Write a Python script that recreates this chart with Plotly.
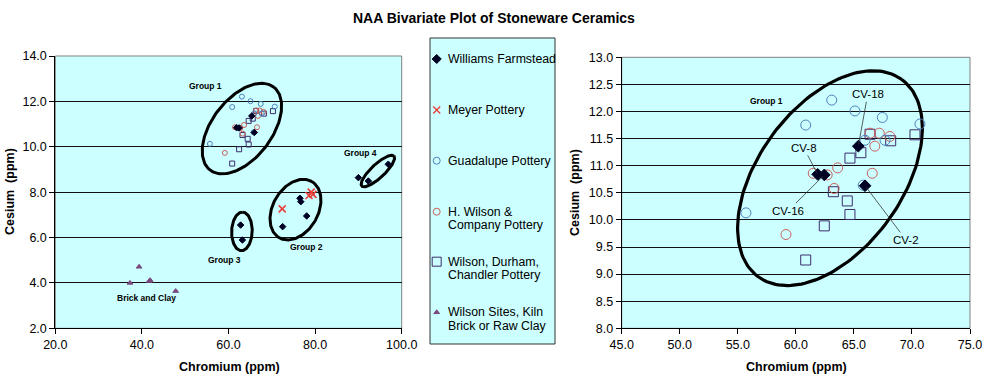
import numpy as np
import plotly.graph_objects as go

W, H = 987, 380
FONT = "Liberation Sans, Arial, Helvetica, sans-serif"

# ---------------- data (Chromium ppm, Cesium ppm) ----------------
series_names = ["Williams Farmstead", "Meyer Pottery", "Guadalupe Pottery",
                "H. Wilson & Company Pottery", "Wilson, Durham, Chandler Pottery",
                "Wilson Sites, Kiln Brick or Raw Clay"]
legend_lines = [["Williams Farmstead"], ["Meyer Pottery"], ["Guadalupe Pottery"],
                ["H. Wilson &", "Company Pottery"], ["Wilson, Durham,", "Chandler Pottery"],
                ["Wilson Sites, Kiln", "Brick or Raw Clay"]]

williams_x = [65.38, 61.88, 62.45, 65.96, 62.8, 63.2, 76.5, 76.7, 78.06, 72.5, 90.0, 92.3, 96.9]
williams_y = [11.36, 10.84, 10.83, 10.63, 6.55, 5.89, 7.73, 7.58, 6.95, 6.48, 8.64, 8.49, 9.23]
williams_labels = ["CV-18", "CV-8", "CV-16", "CV-2"]   # first four samples

meyer_x = [72.4, 78.6, 79.1, 79.5]
meyer_y = [7.26, 7.85, 8.0, 7.9]

guadalupe_x = [63.09, 65.09, 60.85, 67.45, 70.69, 65.96, 67.68, 65.8, 55.7]
guadalupe_y = [12.21, 12.01, 11.75, 11.89, 11.77, 11.47, 11.47, 10.64, 10.13]

hwilson_x = [61.5, 62.7, 63.6, 66.58, 66.8, 67.19, 68.1, 63.3, 59.15, 66.4]
hwilson_y = [10.86, 10.83, 10.96, 10.86, 11.36, 11.60, 11.54, 10.58, 9.73, 11.6]

wdc_x = [66.39, 68.17, 70.26, 65.6, 64.66, 63.23, 64.43, 64.66, 62.45, 60.85]
wdc_y = [11.58, 11.46, 11.57, 11.24, 11.14, 10.52, 10.35, 10.10, 9.89, 9.26]

sites_x = [39.35, 37.25, 41.7, 41.9, 47.8]
sites_y = [4.71, 4.0, 4.08, 4.12, 3.64]

# group ellipses: centre (data), semi-axes (px), tilt (deg)
left_groups = ["Group 1", "Group 2", "Group 3", "Group 4"]
left_ell_cx = [63.1, 75.47, 63.1, 94.5]
left_ell_cy = [10.8, 7.23, 6.27, 8.93]
left_ell_a = [52.3, 32.5, 19.3, 22.0]
left_ell_b = [29.9, 22.6, 10.3, 6.7]
left_ell_ang = [52.5, 59.8, 88.0, 43.0]
left_label_x = [54.8, 78.06, 59.08, 90.5]
left_label_y = [12.68, 5.57, 5.0, 9.73]
clay_label = ("Brick and Clay", 41.13, 3.32)

right_ell = dict(cx=62.94, cy=10.77, a=122.0, b=72.0, ang=54.0)
right_group_label = ("Group 1", 57.51, 12.19)
cv_label_x = [66.19, 60.68, 59.35, 69.49]
cv_label_y = [12.32, 11.33, 10.17, 9.63]

# ---------------- layout geometry ----------------
L_XD = [55.3 / W, 401.7 / W]
L_YD = [1 - 328.3 / H, 1 - 56.0 / H]
R_XD = [621.7 / W, 970.0 / W]
R_YD = [1 - 328.3 / H, 1 - 57.3 / H]
LEG_X = [430 / W, 555 / W]
LEG_Y = [1 - 344 / H, 1 - 38 / H]
L_XR, L_YR = [20, 100], [2, 14]
R_XR, R_YR = [45, 75], [8, 13]

colors = ["#000022", "#e8403c", "#4f81bd", "#c8605a", "#3c2c6c", "#7a4a7e"]
symbols = ["diamond", "x-thin-open", "circle-open", "circle-open", "square-open", "triangle-up"]
series = [(williams_x, williams_y), (meyer_x, meyer_y), (guadalupe_x, guadalupe_y),
          (hwilson_x, hwilson_y), (wdc_x, wdc_y), (sites_x, sites_y)]
left_sizes = [5, 7, 5, 5, 5, 5]
right_sizes = [9, 10, 10, 10, 10, 6]
legend_sizes = [7, 7, 7, 7, 9, 5]


def ellipse(cx, cy, a, b, ang, xd, yd, xr, yr, n=160):
    ppx = (xd[1] - xd[0]) * W / (xr[1] - xr[0])
    ppy = (yd[1] - yd[0]) * H / (yr[1] - yr[0])
    t = np.linspace(0, 2 * np.pi, n)
    th = np.radians(ang)
    dx = a * np.cos(t) * np.cos(th) - b * np.sin(t) * np.sin(th)
    dy = a * np.cos(t) * np.sin(th) + b * np.sin(t) * np.cos(th)
    return cx + dx / ppx, cy + dy / ppy


fig = go.Figure()

# ellipses
for i in range(len(left_groups)):
    ex, ey = ellipse(left_ell_cx[i], left_ell_cy[i], left_ell_a[i], left_ell_b[i],
                     left_ell_ang[i], L_XD, L_YD, L_XR, L_YR)
    fig.add_trace(go.Scatter(x=ex, y=ey, mode="lines", line=dict(color="black", width=3),
                             hoverinfo="skip", showlegend=False, xaxis="x", yaxis="y"))
ex, ey = ellipse(right_ell["cx"], right_ell["cy"], right_ell["a"], right_ell["b"],
                 right_ell["ang"], R_XD, R_YD, R_XR, R_YR)
fig.add_trace(go.Scatter(x=ex, y=ey, mode="lines", line=dict(color="black", width=3.2),
                         hoverinfo="skip", showlegend=False, xaxis="x2", yaxis="y2"))

# data markers, drawn in reverse so Williams diamonds end on top
order = [5, 4, 3, 2, 1, 0]
for i in order:
    sx, sy = series[i]
    lw = 1.6 if symbols[i] == "x-thin-open" else 1
    for ax, ay, sz in (("x", "y", left_sizes[i]), ("x2", "y2", right_sizes[i])):
        fig.add_trace(go.Scatter(
            x=sx, y=sy, mode="markers", name=series_names[i], showlegend=False,
            xaxis=ax, yaxis=ay,
            marker=dict(symbol=symbols[i], size=sz, color=colors[i],
                        line=dict(color=colors[i], width=lw))))

# manual legend markers (legend axis in pixel units)
legend_row = [21, 72, 122.7, 173.7, 223.7, 274.3]
for i in range(len(series_names)):
    lw = 1.4 if symbols[i] == "x-thin-open" else 1
    fig.add_trace(go.Scatter(
        x=[6.7], y=[legend_row[i]], mode="markers", showlegend=False, hoverinfo="skip",
        xaxis="x3", yaxis="y3",
        marker=dict(symbol=symbols[i], size=legend_sizes[i], color=colors[i],
                    line=dict(color=colors[i], width=lw))))

annotations = []
shapes = []
for i, lines in enumerate(legend_lines):
    for j, txt in enumerate(lines):
        annotations.append(dict(x=15.5, y=legend_row[i] + j * 13.4, xref="x3", yref="y3",
                                text=txt, showarrow=False, xanchor="left", yanchor="middle",
                                font=dict(family=FONT, size=12.3, color="black")))

# group labels
for i, g in enumerate(left_groups):
    annotations.append(dict(x=left_label_x[i], y=left_label_y[i], xref="x", yref="y",
                            text="<b>%s</b>" % g, showarrow=False,
                            xanchor="center", yanchor="middle",
                            font=dict(family=FONT, size=8.5, color="black")))
annotations.append(dict(x=clay_label[1], y=clay_label[2], xref="x", yref="y",
                        text="<b>%s</b>" % clay_label[0], showarrow=False,
                        xanchor="center", yanchor="middle",
                        font=dict(family=FONT, size=8.5, color="black")))
annotations.append(dict(x=right_group_label[1], y=right_group_label[2], xref="x2", yref="y2",
                        text="<b>%s</b>" % right_group_label[0], showarrow=False,
                        xanchor="center", yanchor="middle",
                        font=dict(family=FONT, size=8.5, color="black")))

# CV labels with leader lines
for i, lab in enumerate(williams_labels):
    annotations.append(dict(x=williams_x[i], y=williams_y[i], xref="x2", yref="y2",
                            ax=cv_label_x[i], ay=cv_label_y[i], axref="x2", ayref="y2",
                            text=lab, showarrow=True, arrowhead=0, arrowwidth=0.8,
                            arrowcolor="#333333", standoff=2,
                            font=dict(family=FONT, size=11.5, color="black")))

# titles
annotations.append(dict(x=494 / W, y=1 - 18 / H, xref="paper", yref="paper",
                        xanchor="center", yanchor="middle",
                        text="<b>NAA Bivariate Plot of Stoneware Ceramics</b>", showarrow=False,
                        font=dict(family=FONT, size=14, color="black")))
for cx in (229 / W, 796 / W):
    annotations.append(dict(x=cx, y=1 - 367 / H, xref="paper", yref="paper",
                            xanchor="center", yanchor="middle",
                            text="<b>Chromium (ppm)</b>", showarrow=False,
                            font=dict(family=FONT, size=12.5, color="black")))
for cx, cy in ((10 / W, 1 - 192 / H), (575 / W, 1 - 193 / H)):
    annotations.append(dict(x=cx, y=cy, xref="paper", yref="paper", textangle=-90,
                            xanchor="center", yanchor="middle",
                            text="<b>Cesium  (ppm)</b>", showarrow=False,
                            font=dict(family=FONT, size=12.5, color="black")))

# plot-area borders and legend box
for xr, yr in (("x domain", "y domain"), ("x2 domain", "y2 domain")):
    shapes.append(dict(type="rect", xref=xr, yref=yr, x0=0, x1=1, y0=0, y1=1,
                       line=dict(color="#808080", width=1), layer="below"))
shapes.append(dict(type="rect", xref="paper", yref="paper", x0=LEG_X[0], x1=LEG_X[1],
                   y0=LEG_Y[0], y1=LEG_Y[1], line=dict(color="#333333", width=1), layer="above"))

tickfont = dict(family=FONT, size=12.5, color="black")
axis_common = dict(showline=True, linecolor="black", linewidth=1, ticks="outside", ticklen=5,
                   tickcolor="black", tickfont=tickfont, zeroline=False, tickformat=".1f",
                   automargin=False)

fig.update_layout(
    width=W, height=H, margin=dict(l=0, r=0, t=0, b=0, pad=0, autoexpand=False),
    paper_bgcolor="white", plot_bgcolor="#ccffff", showlegend=False,
    xaxis=dict(domain=L_XD, range=L_XR, dtick=20, tick0=20, showgrid=False, anchor="y",
               **axis_common),
    yaxis=dict(domain=L_YD, range=L_YR, dtick=2, tick0=2, showgrid=True, gridcolor="#111111",
               gridwidth=1, anchor="x", **axis_common),
    xaxis2=dict(domain=R_XD, range=R_XR, dtick=5, tick0=45, showgrid=False, anchor="y2",
                **axis_common),
    yaxis2=dict(domain=R_YD, range=R_YR, dtick=0.5, tick0=8, showgrid=True, gridcolor="#111111",
                gridwidth=1, anchor="x2", **axis_common),
    xaxis3=dict(domain=LEG_X, range=[0, 125], visible=False, anchor="y3", fixedrange=True,
                automargin=False),
    yaxis3=dict(domain=LEG_Y, range=[306, 0], visible=False, anchor="x3", fixedrange=True,
                automargin=False),
    annotations=annotations, shapes=shapes,
)

fig.write_html("out.html", config={"displayModeBar": False},
               post_script="document.body.style.margin='0px';document.body.style.overflow='hidden';")
